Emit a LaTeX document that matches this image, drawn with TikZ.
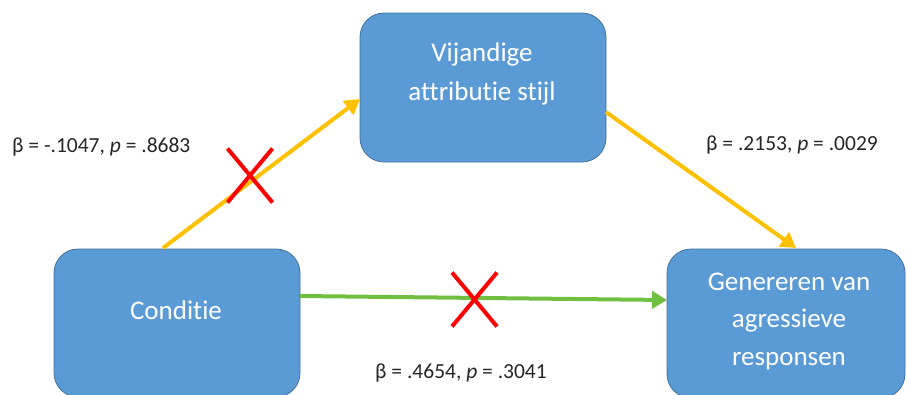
\documentclass[tikz,border=0pt]{standalone}
\usepackage{fontspec}
\setmainfont{Carlito}[Ligatures=NoCommon]
\usetikzlibrary{arrows.meta,calc}
\definecolor{boxfill}{HTML}{5B9BD5}
\definecolor{boxline}{HTML}{41719C}
\definecolor{pathyellow}{HTML}{FFC000}
\definecolor{pathgreen}{HTML}{70BF41}
\definecolor{crossred}{HTML}{FF0000}
\tikzset{
  varbox/.style={draw=boxline, line width=0.8pt, fill=boxfill, rounded corners=24pt,
    inner sep=0pt},
  boxtext/.style={text=white, align=center, inner sep=0pt,
    font=\fontsize{27}{39}\selectfont},
  effect/.style={line width=4pt, -{Triangle[length=15pt,width=17pt]}},
  coef/.style={font=\fontsize{21.5}{26}\selectfont, text=black!85, anchor=base west, inner sep=0pt},
  crossmark/.style={draw=crossred, line width=4pt}
}
\begin{document}
\begin{tikzpicture}[x=1pt,y=-1pt]
  \useasboundingbox (0,0) rectangle (907,394);
  % variables
  \node[varbox, minimum width=246pt, minimum height=149pt] (med) at (483,87.5) {};
  \node[varbox, minimum width=246pt, minimum height=148pt] (iv) at (177,323) {};
  \node[varbox, minimum width=238pt, minimum height=149pt] (dv) at (786,323.5) {};
  \node[boxtext] (med-t) at (482,74) {Vijandige\\attributie stijl};
  \node[boxtext] (iv-t) at (176,310.5) {Conditie};
  \node[boxtext, font=\fontsize{27}{37.5}\selectfont] (dv-t) at (789,321) {Genereren van\\agressieve\\responsen};
  % anchor points of the paths
  \coordinate (a1) at (163,248);
  \coordinate (a2) at (360,99);
  \coordinate (b1) at (606,112);
  \coordinate (b2) at (796,248);
  \coordinate (c1) at (300,296);
  \coordinate (c2) at (667,300);
  \draw[effect, draw=pathyellow] (a1) -- (a2);
  \draw[effect, draw=pathyellow] (b1) -- (b2);
  \draw[effect, draw=pathgreen] (c1) -- (c2);
  % non-significant paths
  \coordinate (x1) at (250,175.5);
  \coordinate (x2) at (474.5,299.5);
  \draw[crossmark] ($(x1)+(-22.5,-27)$) -- ($(x1)+(22.5,27)$) ($(x1)+(22.5,-27)$) -- ($(x1)+(-22.5,27)$);
  \draw[crossmark] ($(x2)+(-22.5,-27)$) -- ($(x2)+(22.5,27)$) ($(x2)+(22.5,-27)$) -- ($(x2)+(-22.5,27)$);
  % coefficients
  \node[coef] (ca) at (12,152) {β = -.1047, \textit{p} = .8683};
  \node[coef] (cb) at (706,150) {β = .2153, \textit{p} = .0029};
  \node[coef] (cc) at (375,378) {β = .4654, \textit{p} = .3041};
\end{tikzpicture}
\end{document}
